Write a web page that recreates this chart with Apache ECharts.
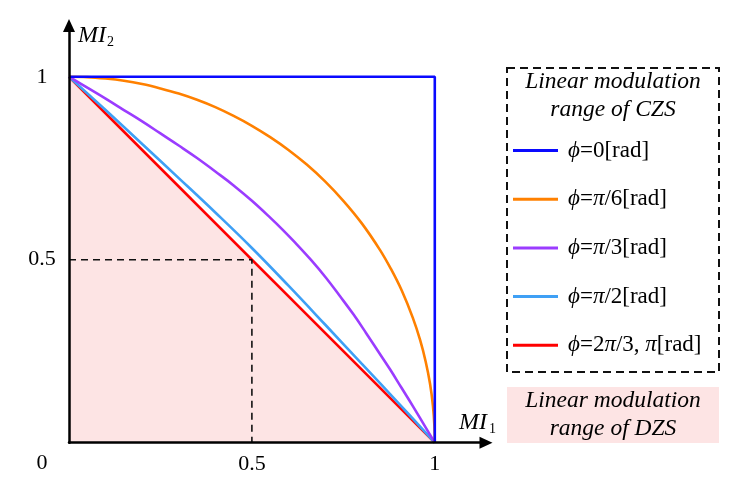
<!DOCTYPE html>
<html>
<head>
<meta charset="utf-8">
<script src="https://cdn.jsdelivr.net/npm/echarts@6/dist/echarts.min.js"></script>
<style>
html,body{margin:0;padding:0;background:#fff;}
#c{width:736px;height:503px;}
</style>
</head>
<body>
<div id="c"></div>
<script>
// ---- data ----
var seriesNames = ['ϕ=0[rad]', 'ϕ=π/6[rad]', 'ϕ=π/3[rad]', 'ϕ=π/2[rad]', 'ϕ=2π/3, π[rad]'];
var phi0 = [[0,1],[1,1],[1,0]];
var phiPi6 = [[0,1],[0.05,0.999],[0.10,0.995],[0.15,0.989],[0.20,0.980],[0.25,0.968],[0.30,0.954],[0.35,0.937],[0.40,0.917],[0.45,0.893],[0.50,0.866],[0.55,0.835],[0.60,0.800],[0.65,0.760],[0.70,0.714],[0.75,0.661],[0.80,0.600],[0.85,0.527],[0.88,0.475],[0.91,0.415],[0.94,0.341],[0.96,0.280],[0.975,0.222],[0.987,0.161],[0.995,0.100],[0.999,0.045],[1,0]];
var phiPi3 = [[0,1],[0.05,0.970],[0.1,0.940],[0.15,0.909],[0.2,0.878],[0.25,0.845],[0.3,0.812],[0.35,0.778],[0.4,0.741],[0.45,0.703],[0.5,0.661],[0.55,0.615],[0.583,0.583],[0.615,0.55],[0.661,0.5],[0.703,0.45],[0.741,0.4],[0.778,0.35],[0.812,0.3],[0.845,0.25],[0.878,0.2],[0.909,0.15],[0.940,0.1],[0.970,0.05],[1,0]];
var phiPi2 = [[0,1],[0.1,0.909],[0.2,0.816],[0.3,0.723],[0.4,0.629],[0.5,0.532],[0.6,0.429],[0.7,0.323],[0.8,0.216],[0.9,0.109],[1,0]];
var phi2Pi3 = [[0,1],[1,0]];
var guide = [[0,0.5],[0.5,0.5],[0.5,0]];
var tickValues = [0.5, 1];
var colors = ['#0a0aff', '#ff8000', '#9b3cff', '#3fa0f5', '#ff0000'];
var legendTitle = ['Linear modulation', 'range of CZS'];
var dzsTitle = ['Linear modulation', 'range of DZS'];

var serif = '"Liberation Serif","Times New Roman",serif';
var chart = echarts.init(document.getElementById('c'), null, {renderer:'canvas'});

function richName(n){
  var out = '';
  var buf = '';
  for (var i = 0; i < n.length; i++) {
    var ch = n[i];
    if (ch === 'ϕ' || ch === 'π') {
      if (buf) { out += '{n|' + buf + '}'; buf=''; }
      out += (i === 0 ? '{f|' : '{i|') + ch + '}';
    } else buf += ch;
  }
  if (buf) out += '{n|' + buf + '}';
  return out;
}

function mkSeries(name, data, color, extra){
  var s = {
    name: name, type: 'line', data: data, showSymbol: false, symbol: 'none',
    smooth: data.length > 3 ? 0.4 : false,
    lineStyle: {color: color, width: 2.6},
    itemStyle: {color: color},
    z: 3
  };
  for (var k in extra) s[k] = extra[k];
  return s;
}

var axisMax = 1.14;
var axisLineCfg = {show: true, onZero: false, lineStyle: {color: '#000', width: 2.5}, symbol: ['none', 'triangle'], symbolSize: [12, 13]};
var option = {
  animation: false,
  backgroundColor: '#fff',
  color: colors,
  grid: {left: 69, top: 25.5, width: 417, height: 417.2, containLabel: false},
  xAxis: {
    type: 'value', min: 0, max: axisMax, interval: 0.5, z: 5,
    axisLine: axisLineCfg,
    axisTick: {show: false}, splitLine: {show: false},
    axisLabel: {margin: 11, color: '#000', fontFamily: serif, fontSize: 22,
      formatter: function(v){ return tickValues.indexOf(v) >= 0 ? String(v) : ''; }}
  },
  yAxis: {
    type: 'value', min: 0, max: axisMax, interval: 0.5, z: 5,
    axisLine: axisLineCfg,
    axisTick: {show: false}, splitLine: {show: false},
    axisLabel: {margin: 27, align: 'center', padding: [6, 0, 0, 0], color: '#000', fontFamily: serif, fontSize: 22,
      formatter: function(v){ return tickValues.indexOf(v) >= 0 ? String(v) : ''; }}
  },
  legend: {
    orient: 'vertical', left: 513, top: 139, itemGap: 25.7, padding: 0,
    itemWidth: 45, itemHeight: 3, icon: 'rect',
    data: seriesNames,
    formatter: richName,
    textStyle: {
      color: '#000', fontFamily: serif, fontSize: 23,
      rich: {
        f: {fontFamily: serif, fontSize: 23, fontStyle: 'italic', color: '#000', padding: [0,0,0,5]},
        i: {fontFamily: serif, fontSize: 23, fontStyle: 'italic', color: '#000'},
        n: {fontFamily: serif, fontSize: 23, color: '#000'}
      }
    }
  },
  series: [
    mkSeries(seriesNames[4], phi2Pi3, colors[4], {areaStyle: {color: '#fde4e4', opacity: 1}, z: 2}),
    mkSeries('guide', guide, '#000', {lineStyle: {color: '#111', width: 1.6, type: [7, 5]}, z: 4}),
    mkSeries(seriesNames[3], phiPi2, colors[3]),
    mkSeries(seriesNames[2], phiPi3, colors[2]),
    mkSeries(seriesNames[1], phiPi6, colors[1]),
    mkSeries(seriesNames[0], phi0, colors[0])
  ],
  graphic: [
    {type: 'rect', shape: {x: 507, y: 68, width: 212, height: 304}, style: {fill: 'none', stroke: '#111', lineWidth: 2, lineDash: [8, 5]}, z: 10},
    {type: 'text', style: {text: legendTitle[0], x: 613, y: 82, align: 'center', verticalAlign: 'middle', font: 'italic 23.5px ' + serif, fill: '#000'}},
    {type: 'text', style: {text: legendTitle[1], x: 613, y: 110, align: 'center', verticalAlign: 'middle', font: 'italic 23.5px ' + serif, fill: '#000'}},
    {type: 'rect', shape: {x: 507, y: 387, width: 212, height: 56}, style: {fill: '#fde4e4'}},
    {type: 'text', style: {text: dzsTitle[0], x: 613, y: 401, align: 'center', verticalAlign: 'middle', font: 'italic 23.5px ' + serif, fill: '#000'}},
    {type: 'text', style: {text: dzsTitle[1], x: 613, y: 429, align: 'center', verticalAlign: 'middle', font: 'italic 23.5px ' + serif, fill: '#000'}},
    {type: 'text', style: {text: '0', x: 42, y: 463, align: 'center', verticalAlign: 'middle', font: '22px ' + serif, fill: '#000'}},
    {type: 'text', style: {text: 'MI', x: 78, y: 36, align: 'left', verticalAlign: 'middle', font: 'italic 24px ' + serif, fill: '#000'}},
    {type: 'text', style: {text: '2', x: 107, y: 42, align: 'left', verticalAlign: 'middle', font: '14px ' + serif, fill: '#000'}},
    {type: 'text', style: {text: 'MI', x: 459, y: 423, align: 'left', verticalAlign: 'middle', font: 'italic 24px ' + serif, fill: '#000'}},
    {type: 'text', style: {text: '1', x: 489, y: 429, align: 'left', verticalAlign: 'middle', font: '14px ' + serif, fill: '#000'}}
  ]
};
chart.setOption(option);
</script>
</body>
</html>
